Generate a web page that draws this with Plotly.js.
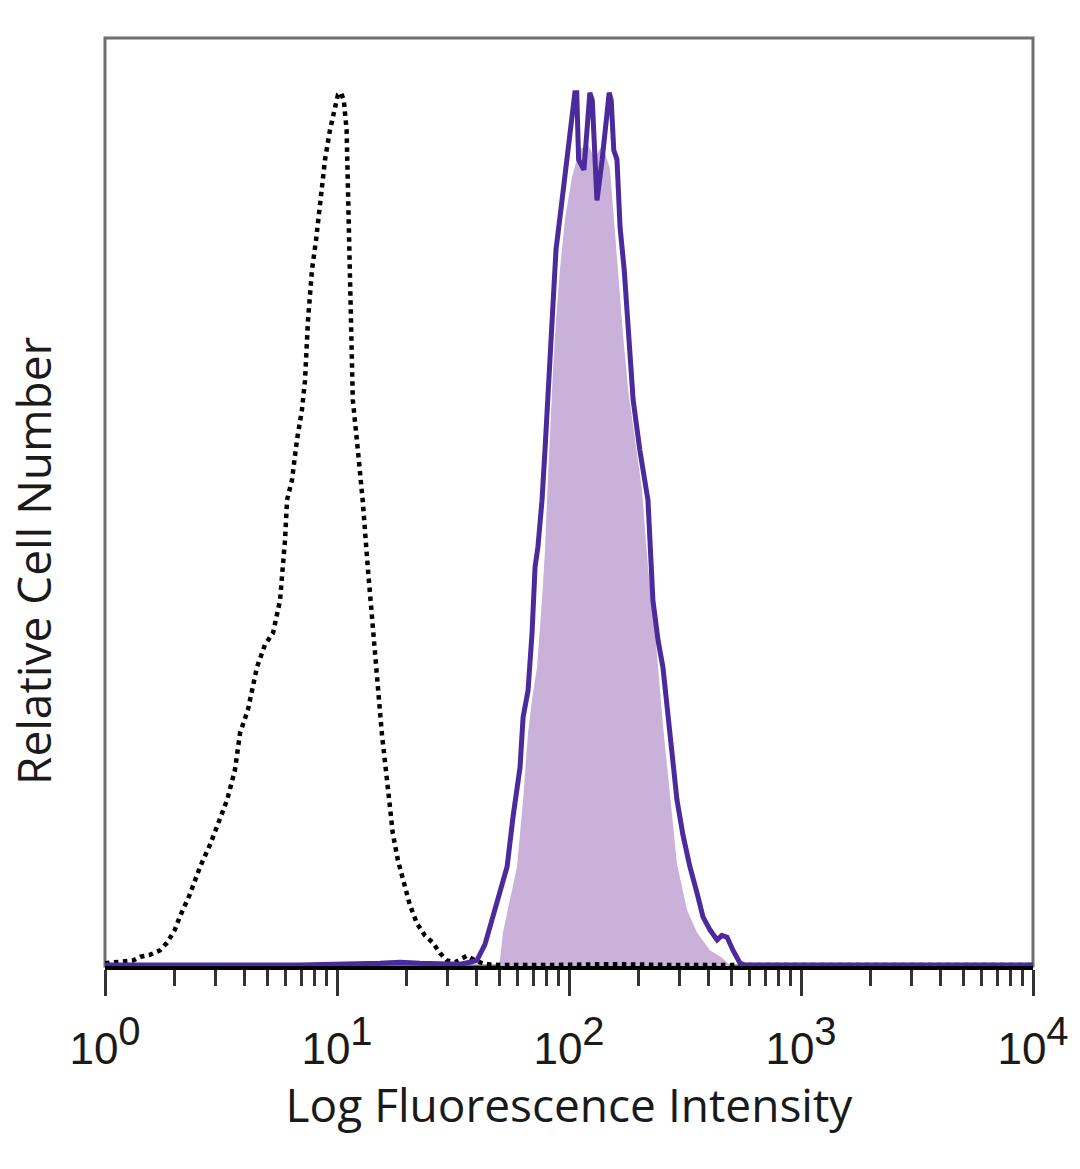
<!DOCTYPE html>
<html>
<head>
<meta charset="utf-8">
<script src="https://cdn.plot.ly/plotly-3.0.1.min.js"></script>
<style>html,body{margin:0;padding:0;background:#fff;}#chart{width:1080px;height:1169px;}</style>
</head>
<body>
<div id="chart"></div>
<script>
// Isotype control (black dotted histogram)
const isoX = [1.00,1.10,1.22,1.32,1.42,1.56,1.73,1.85,2.00,2.10,2.32,2.57,2.84,3.13,3.36,3.63,3.82,4.13,4.52,4.89,5.30,5.57,5.68,5.97,6.09,6.40,6.72,7.06,7.28,7.50,7.80,8.12,8.45,8.88,9.33,9.80,10.1,10.4,10.7,11.0,11.3,11.5,11.7,12.3,12.9,13.6,14.3,14.9,15.6,16.6,17.4,18.3,19.2,20.6,22.1,23.9,25.9,27.8,29.8,32.3,36.3,39.4,43.4,50.4,82.8,150,300,1000,3000,10000];
const isoY = [0.3,0.4,0.6,0.6,1.0,1.2,1.7,2.5,3.9,5.3,7.7,10.7,13.1,15.7,17.9,21.1,25.1,27.6,32.2,34.6,35.9,38.4,39.4,45.9,50.2,52.4,56.7,59.9,63.1,69.6,75.0,78.2,82.5,86.9,90.1,92.2,93.9,94.1,93.3,90.1,77.2,68.5,61.0,55.6,50.2,42.7,35.9,30.8,25.1,19.0,14.3,11.4,9.6,6.6,4.6,3.3,2.5,1.4,0.6,0.4,1.1,0.6,0.2,0.1,0.1,0.2,0.1,0.1,0.2,0.1];

// Stained sample, outline (purple line)
const cdX = [1.00,2.57,6.93,15.3,18.7,22.8,27.8,33.9,37.4,40.1,43.4,47.0,50.4,54.1,57.4,61.5,63.4,66.6,69.3,71.4,73.5,76.5,78.8,81.2,83.6,85.3,87.9,93.3,98.0,103,106,108,110,116,121,123,126,132,139,144,149,152,156,161,166,173,178,183,189,202,219,230,242,254,272,292,310,332,356,378,405,435,456,480,509,546,574,991,10000];
const cdY = [0.1,0.1,0.1,0.3,0.4,0.3,0.3,0.2,0.4,0.6,2.3,5.3,8.2,10.7,16.1,21.4,26.8,29.7,35.9,43.0,45.2,50.2,55.6,61.0,66.4,71.8,77.2,82.5,86.9,91.2,94.1,94.1,86.9,85.8,93.3,94.1,93.3,82.5,86.9,90.1,94.1,93.3,87.9,86.9,79.6,75.0,70.7,66.4,61.0,55.6,50.2,39.4,35.1,32.2,25.1,17.9,14.1,10.7,7.9,5.3,3.9,2.8,3.3,3.1,1.7,0.3,0.1,0.1,0.1];

// Stained sample, filled histogram (light purple)
const fillX = [48.9,50.4,51.9,55.7,59.7,63.4,66.6,69.3,72.8,76.5,78.8,80.4,82.8,85.3,87.9,91.4,96.1,103,111,121,129,139,150,156,163,171,180,192,206,219,235,254,272,292,323,356,405,456,494];
const fillY = [0.1,0.6,3.6,7.1,10.7,17.9,25.1,28.7,32.2,39.4,44.8,50.2,57.8,64.2,69.6,75.0,80.5,85.0,88.0,88.5,87.0,88.5,86.0,80.5,74.0,68.0,62.0,57.0,51.5,43.0,36.0,26.0,18.5,11.0,6.0,3.6,1.7,0.9,0.1];

const tickVals = [1,10,100,1000,10000];
const tickExp = ['0','1','2','3','4'];
const tickText = tickExp.map(e => '10<sup><span style="font-size:40px">' + e + '</span></sup>');

const traces = [
  {x: fillX, y: fillY, type: 'scatter', mode: 'lines', fill: 'tozeroy',
   fillcolor: '#c9b1d9', line: {color: '#c9b1d9', width: 0}, hoverinfo: 'skip'},
  {x: isoX, y: isoY, type: 'scatter', mode: 'lines',
   line: {color: '#000000', width: 4.5, dash: 'dot'}},
  {x: cdX, y: cdY, type: 'scatter', mode: 'lines',
   line: {color: '#4b2a9b', width: 5}}
];

const layout = {
  width: 1080, height: 1169,
  margin: {l: 105, r: 47, t: 38, b: 203},
  paper_bgcolor: '#ffffff', plot_bgcolor: '#ffffff',
  showlegend: false,
  xaxis: {
    type: 'log', range: [0, 4],
    tickmode: 'array', tickvals: tickVals, ticktext: tickText,
    ticks: 'outside', ticklen: 26, tickwidth: 3, tickcolor: '#333333',
    ticklabelstandoff: 15,
    minor: {ticks: 'outside', ticklen: 16, tickwidth: 3, tickcolor: '#333333', dtick: 'D1', showgrid: false},
    tickfont: {family: 'Liberation Sans, Arial, sans-serif', size: 44, color: '#1a1a1a'},
    showgrid: false, zeroline: false,
    showline: true, linecolor: '#000000', linewidth: 4,
    title: {text: 'Log Fluorescence Intensity', standoff: 14,
            font: {family: 'Open Sans, sans-serif', size: 46, color: '#1a1a1a'}},
    automargin: false
  },
  yaxis: {
    range: [0, 100], showticklabels: false, ticks: '',
    showgrid: false, zeroline: false,
    showline: false, automargin: false
  },
  shapes: [
    {type: 'rect', xref: 'paper', yref: 'paper', x0: 0, x1: 1, y0: 0, y1: 1,
     line: {color: '#707070', width: 3}, layer: 'below'}
  ],
  annotations: [
    {text: 'Relative Cell Number', xref: 'paper', yref: 'paper',
     x: -0.0776, y: 0.4375, xanchor: 'center', yanchor: 'middle',
     textangle: -90, showarrow: false,
     font: {family: 'Open Sans, sans-serif', size: 46, color: '#1a1a1a'}}
  ]
};

Plotly.newPlot('chart', traces, layout, {displayModeBar: false, staticPlot: true});
</script>
</body>
</html>
